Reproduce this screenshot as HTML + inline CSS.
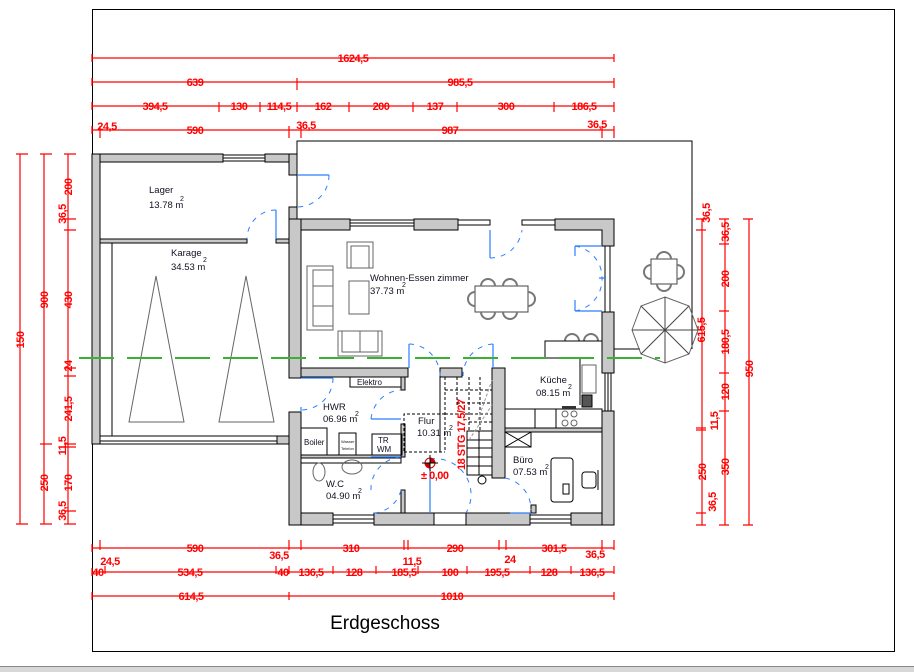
<!DOCTYPE html>
<html><head><meta charset="utf-8"><style>
html,body{margin:0;padding:0;background:#fff;}
svg{display:block;}
.d{stroke:#f00;stroke-width:1.2;fill:none}
.dt{fill:#f00;font-family:"Liberation Sans",sans-serif;font-weight:bold;font-size:11px;letter-spacing:-0.5px}
.w{fill:#c8c8c8;stroke:#000;stroke-width:1}
.l{stroke:#000;stroke-width:1;fill:none}
.g{stroke:#666;stroke-width:1;fill:none}
.b{stroke:#2a7fff;stroke-width:1.2;fill:none}
.bd{stroke:#2a7fff;stroke-width:1;fill:none;stroke-dasharray:5,6}
.rt{fill:#112;font-family:"Liberation Sans",sans-serif;font-size:9.5px}
</style></head><body>
<svg width="914" height="672" viewBox="0 0 914 672" xmlns="http://www.w3.org/2000/svg">
<rect x="92.5" y="9.5" width="802" height="642" fill="none" stroke="#000" stroke-width="1"/>
<rect x="0" y="666" width="914" height="6" fill="#d8d8d8"/>
<line x1="0" y1="666.5" x2="914" y2="666.5" stroke="#888"/>

<!-- top dims -->
<g class="d">
<line x1="92" y1="58" x2="614" y2="58"/>
<line x1="92" y1="82" x2="614" y2="82"/>
<line x1="92" y1="106" x2="614" y2="106"/>
<line x1="92" y1="130" x2="614" y2="130"/>
<path d="M92 54v8M614 54v8M92 78v8M297 78v12M614 78v10M92 102v8M219 102v10M260 102v10M297 102v10M349 102v10M413 102v10M457 102v10M554 102v10M614 102v10M92 126v8M100 126v12M289 126v12M301 126v12M602 126v12M614 126v12"/>
</g>
<g class="dt" text-anchor="middle">
<text x="353" y="62">1624,5</text>
<text x="195" y="86">639</text><text x="460" y="86">985,5</text>
<text x="155" y="110">394,5</text><text x="239" y="110">130</text><text x="279" y="110">114,5</text><text x="323" y="110">162</text><text x="381" y="110">200</text><text x="435" y="110">137</text><text x="506" y="110">300</text><text x="584" y="110">186,5</text>
<text x="107" y="130">24,5</text><text x="195" y="134">590</text><text x="306" y="129">36,5</text><text x="450" y="134">987</text><text x="597" y="128">36,5</text>
</g>

<!-- left dims -->
<g class="d">
<line x1="20" y1="154" x2="20" y2="524"/>
<line x1="44" y1="154" x2="44" y2="524"/>
<line x1="68" y1="154" x2="68" y2="524"/>
<path d="M16 154h12M40 154h12M64 154h12M16 524h12M40 524h12M64 524h12M40 444h12M64 219h12M64 230h12M64 368h12M64 376h12M64 444h12M64 447h12M64 511h12"/>
</g>
<g class="dt" text-anchor="middle">
<text transform="translate(24,340) rotate(-90)">150</text>
<text transform="translate(48,300) rotate(-90)">900</text>
<text transform="translate(48,483) rotate(-90)">250</text>
<text transform="translate(72,187) rotate(-90)">200</text>
<text transform="translate(66,214) rotate(-90)">36,5</text>
<text transform="translate(72,300) rotate(-90)">430</text>
<text transform="translate(72,366) rotate(-90)">24</text>
<text transform="translate(72,409) rotate(-90)">241,5</text>
<text transform="translate(66,446) rotate(-90)">11,5</text>
<text transform="translate(72,483) rotate(-90)">170</text>
<text transform="translate(66,511) rotate(-90)">36,5</text>
</g>

<!-- right dims -->
<g class="d">
<line x1="702" y1="219" x2="702" y2="525"/>
<line x1="725" y1="219" x2="725" y2="525"/>
<line x1="749" y1="219" x2="749" y2="525"/>
<path d="M696 219h10M696 230h10M696 428h10M696 430h10M696 513h10M696 525h10M719 219h10M719 244h10M719 311h10M719 373h10M719 411h10M719 525h10M743 219h10M743 525h10"/>
</g>
<g class="dt" text-anchor="middle">
<text transform="translate(710,213) rotate(-90)">36,5</text>
<text transform="translate(705,330) rotate(-90)">615,5</text>
<text transform="translate(718,421) rotate(-90)">11,5</text>
<text transform="translate(706,472) rotate(-90)">250</text>
<text transform="translate(716,502) rotate(-90)">36,5</text>
<text transform="translate(729,232) rotate(-90)">36,5</text>
<text transform="translate(729,279) rotate(-90)">200</text>
<text transform="translate(729,342) rotate(-90)">180,5</text>
<text transform="translate(729,392) rotate(-90)">120</text>
<text transform="translate(729,467) rotate(-90)">350</text>
<text transform="translate(753,369) rotate(-90)">950</text>
</g>

<!-- bottom dims -->
<g class="d">
<line x1="92" y1="548" x2="614" y2="548"/>
<line x1="92" y1="572" x2="614" y2="572"/>
<line x1="92" y1="596" x2="614" y2="596"/>
<path d="M92 544v8M100 540v10M289 540v10M301 540v10M404 540v10M408 540v10M499 540v10M506 540v10M602 540v10M614 540v10M92 568v8M105 566v8M276 566v8M289 566v8M333 566v8M376 566v8M418 566v8M467 566v8M530 566v8M571 566v8M614 566v8M92 592v8M289 592v8M614 592v8"/>
</g>
<g class="dt" text-anchor="middle">
<text x="110" y="565">24,5</text><text x="195" y="552">590</text><text x="279" y="559">36,5</text><text x="351" y="552">310</text><text x="412" y="565">11,5</text><text x="455" y="552">290</text><text x="510" y="563">24</text><text x="554" y="552">301,5</text><text x="595" y="558">36,5</text>
<text x="98" y="576">40</text><text x="190" y="576">534,5</text><text x="283" y="576">40</text><text x="311" y="576">136,5</text><text x="354" y="576">128</text><text x="404" y="576">185,5</text><text x="450" y="576">100</text><text x="497" y="576">195,5</text><text x="549" y="576">128</text><text x="592" y="576">136,5</text>
<text x="191" y="600">614,5</text><text x="452" y="600">1010</text>
</g>

<text x="385" y="629" text-anchor="middle" font-family="Liberation Sans,sans-serif" font-size="19" fill="#000">Erdgeschoss</text>

<!-- terrace outline -->
<path class="l" d="M297 219V141H692V349M614 349H640"/>

<!-- garage/lager block -->
<rect class="w" x="92" y="154" width="8" height="290"/>
<rect class="w" x="100" y="154" width="123" height="8"/>
<rect class="w" x="265" y="154" width="32" height="8"/>
<rect x="223" y="155" width="42" height="6" fill="#fff" stroke="#000"/>
<line class="l" x1="223" y1="158" x2="265" y2="158"/>
<rect class="w" x="289" y="154" width="8" height="21"/>
<rect class="w" x="289" y="207" width="8" height="12"/>
<rect class="w" x="100" y="239" width="147" height="4"/>
<rect class="w" x="276" y="239" width="13" height="4"/>
<rect fill="#fff" stroke="#000" x="100" y="243" width="12" height="193"/>
<rect fill="#fff" stroke="#000" x="100" y="436" width="177" height="5"/>
<rect class="w" x="277" y="436" width="12" height="8"/>
<line class="l" x1="92" y1="444" x2="289" y2="444"/>
<!-- garage & lager doors -->
<path class="b" d="M297 175H329M276 239V210"/>
<path class="bd" d="M329 175A32 32 0 0 1 297 207M276 210A29 29 0 0 0 247 239"/>
<!-- cars -->
<path class="g" d="M156 276L129 422H184ZM246 276L219 422H274Z"/>

<!-- main house walls -->
<rect class="w" x="289" y="219" width="12" height="159"/>
<rect class="w" x="289" y="412" width="12" height="113"/>
<rect class="w" x="301" y="219" width="49" height="11"/>
<rect class="w" x="414" y="219" width="44" height="11"/>
<rect x="350" y="220" width="64" height="6" fill="#fff" stroke="#000"/>
<line class="l" x1="350" y1="223" x2="414" y2="223"/>
<rect x="458" y="220" width="32" height="5" fill="#fff" stroke="#000"/>
<rect x="522" y="220" width="33" height="5" fill="#fff" stroke="#000"/>
<path class="w" d="M555 219H614V246H602V230H555Z"/>
<rect x="605" y="246" width="5" height="66" fill="#fff" stroke="#000"/>
<rect class="w" x="602" y="312" width="12" height="61"/>
<rect x="605" y="373" width="6" height="38" fill="#fff" stroke="#000"/>
<line class="l" x1="608" y1="373" x2="608" y2="411"/>
<rect class="w" x="602" y="411" width="12" height="114"/>
<rect class="w" x="301" y="513" width="32" height="12"/>
<rect x="333" y="515" width="41" height="8" fill="#fff" stroke="#000"/>
<line class="l" x1="333" y1="519" x2="374" y2="519"/>
<rect class="w" x="374" y="513" width="60" height="12"/>
<rect class="w" x="466" y="513" width="64" height="12"/>
<rect x="530" y="515" width="41" height="8" fill="#fff" stroke="#000"/>
<line class="l" x1="530" y1="519" x2="571" y2="519"/>
<rect class="w" x="571" y="513" width="31" height="12"/>
<line class="l" x1="434" y1="513" x2="466" y2="513"/>
<line class="l" x1="434" y1="525" x2="466" y2="525"/>
<!-- interior walls -->
<rect class="w" x="301" y="368" width="107" height="9"/>
<rect class="w" x="440" y="368" width="22" height="9"/>
<rect class="w" x="492" y="368" width="13" height="110"/>
<rect class="w" x="401" y="377" width="4" height="13"/>
<rect class="w" x="401" y="424" width="4" height="33"/>
<rect class="w" x="401" y="490" width="4" height="23"/>
<rect class="w" x="301" y="455" width="100" height="3"/>
<rect fill="#fff" stroke="#000" x="301" y="458" width="100" height="5"/>
<rect class="w" x="505" y="428" width="97" height="4"/>
<rect class="w" x="531" y="505" width="5" height="8"/>

<!-- doors blue -->
<path class="b" d="M490 230V258M575 246H602M575 311H602M599 278H606M409 368V344M493 368V344M301 378H333M371 419H401M401 457H371M430 459V513M531 513H510M301 412V407"/>
<path class="bd" d="M490 258A32 32 0 0 0 522 230M575 246A32 32 0 0 1 602 278M575 311A32 32 0 0 0 602 278M409 344A32 32 0 0 1 440 376M493 344A32 32 0 0 0 463 376M333 378A32 32 0 0 1 301 410M371 419A32 32 0 0 1 401 390M371 490A32 32 0 0 1 401 457M430 459A36 36 0 0 1 466 513M401 490A30 30 0 0 1 374 513M505 478A32 32 0 0 1 531 510"/>
<line class="b" x1="575" y1="246" x2="575" y2="256"/>
<line class="b" x1="575" y1="311" x2="575" y2="300"/>

<!-- living furniture -->
<g class="g">
<rect x="307" y="266" width="26" height="64"/><rect x="313" y="270" width="20" height="56"/>
<path d="M313 286H333M313 306H333"/>
<rect x="347" y="242" width="26" height="26"/><rect x="351" y="246" width="18" height="22"/>
<rect x="349" y="281" width="20" height="33"/>
<rect x="338" y="331" width="44" height="25"/><rect x="342" y="331" width="36" height="21"/><line x1="360" y1="331" x2="360" y2="352"/>
<rect x="475" y="286" width="53" height="26" stroke="#444"/>
<path d="M481 286a7 7 0 0 1 14 0M503 286a7 7 0 0 1 14 0M481 312a7 7 0 0 0 14 0M503 312a7 7 0 0 0 14 0M475 292a7 7 0 0 0 0 14M528 292a7 7 0 0 1 0 14" stroke="#777" stroke-width="2"/>
<rect x="651" y="259" width="26" height="25" stroke="#444"/>
<path d="M657 259a7 7 0 0 1 14 0M657 284a7 7 0 0 0 14 0M651 265a7 7 0 0 0 0 14M677 265a7 7 0 0 1 0 14" stroke="#777" stroke-width="2"/>
<path d="M565 341a7 7 0 0 1 14 0M584 341a7 7 0 0 1 14 0" stroke="#777" stroke-width="2"/>
</g>
<!-- umbrella -->
<g stroke="#444" fill="none">
<path d="M665 297L689 306L698 330L689 354L665 363L641 354L632 330L641 306Z" stroke="#666"/>
<path d="M665 297V363M632 330H698M641 306L689 354M689 306L641 354" />
</g>

<!-- kitchen -->
<g class="l">
<path d="M545 358V341H602M545 358H580V405"/>
<rect x="505" y="409" width="97" height="19"/>
<path d="M535 409V428M556 409V428"/>
<rect x="582" y="395" width="10" height="12" fill="#555"/>
<rect x="505" y="432" width="26" height="15"/><path d="M505 432L531 447M531 432L505 447"/>
</g>
<g class="g"><circle cx="565" cy="414" r="3"/><circle cx="574" cy="414" r="3"/><circle cx="565" cy="423" r="3"/><circle cx="574" cy="423" r="3"/><rect x="582" y="365" width="14" height="28"/></g>
<rect x="562" y="406" width="14" height="3" fill="#333"/>

<!-- Büro desk -->
<rect class="l" x="551" y="458" width="22" height="44" rx="3"/>
<rect class="l" x="563" y="484" width="6" height="10"/>
<rect class="l" x="582" y="472" width="14" height="16" rx="3"/>
<line class="l" x1="598" y1="470" x2="598" y2="490"/>

<!-- HWR fixtures -->
<g class="l">
<rect x="350" y="377" width="51" height="10"/>
<rect x="301" y="428" width="26" height="27"/>
<rect x="339" y="433" width="17" height="22"/>
<rect x="372" y="434" width="30" height="21"/>
</g>
<g class="g"><ellipse cx="319" cy="472" rx="6" ry="9"/><ellipse cx="352" cy="467" rx="10" ry="7"/></g>

<!-- stair -->
<g stroke="#000" fill="none" stroke-width="1">
<line x1="440" y1="377" x2="440" y2="452"/>
<rect x="467" y="431" width="25" height="44"/>
<path d="M479 431V475M467 440H492M467 448H492M467 457H492M467 466H492"/>
</g>
<g stroke="#000" fill="none" stroke-dasharray="3,2">
<path d="M445 377V452M457 377V405M469 377V431M480 377V431M445 390H492M457 403H492M445 414H492M469 422H492M404 452H445M445 414H404V452"/>
</g>
<g stroke="#999" stroke-dasharray="3,2"><path d="M478 420L492 380M469 440L492 405"/></g>
<circle cx="482" cy="480" r="4" fill="none" stroke="#000"/>
<text transform="translate(465,470) rotate(-90)" class="dt" font-size="10">18 STG 17,5/27</text>
<!-- level marker -->
<circle cx="430" cy="463" r="5" fill="#fff" stroke="#c00"/>
<path d="M430 458A5 5 0 0 1 435 463H430ZM430 468A5 5 0 0 1 425 463H430Z" fill="#c00"/>
<path d="M422 463h16M430 455v16" stroke="#000"/>
<text x="421" y="479" class="dt" font-size="9">± 0,00</text>

<!-- green dash line -->
<line x1="79" y1="358" x2="660" y2="358" stroke="#3cb030" stroke-width="2" stroke-dasharray="35,13"/>

<!-- room labels -->
<g class="rt">
<text x="149" y="193">Lager</text><text x="149" y="208">13.78 m</text><text x="180" y="201" font-size="7">2</text>
<text x="171" y="256">Karage</text><text x="171" y="270">34.53 m</text><text x="203" y="262" font-size="7">2</text>
<text x="370" y="281">Wohnen-Essen zimmer</text><text x="370" y="294">37.73 m</text><text x="402" y="287" font-size="7">2</text>
<text x="540" y="383">Küche</text><text x="536" y="396">08.15 m</text><text x="568" y="389" font-size="7">2</text>
<text x="323" y="410">HWR</text><text x="323" y="422">06.96 m</text><text x="355" y="416" font-size="7">2</text>
<text x="418" y="424">Flur</text><text x="417" y="436">10.31 m</text><text x="449" y="430" font-size="7">2</text>
<text x="513" y="463">Büro</text><text x="513" y="475">07.53 m</text><text x="545" y="469" font-size="7">2</text>
<text x="326" y="487">W.C</text><text x="326" y="499">04.90 m</text><text x="358" y="493" font-size="7">2</text>
<text x="357" y="385" font-size="8">Elektro</text>
<text x="304" y="445" font-size="8">Boiler</text>
<text x="378" y="443" font-size="8">TR</text><text x="377" y="452" font-size="8">WM</text>
<text x="341" y="443" font-size="4">Wasser</text><text x="341" y="450" font-size="4">Telefon</text>
</g>
</svg>
</body></html>
